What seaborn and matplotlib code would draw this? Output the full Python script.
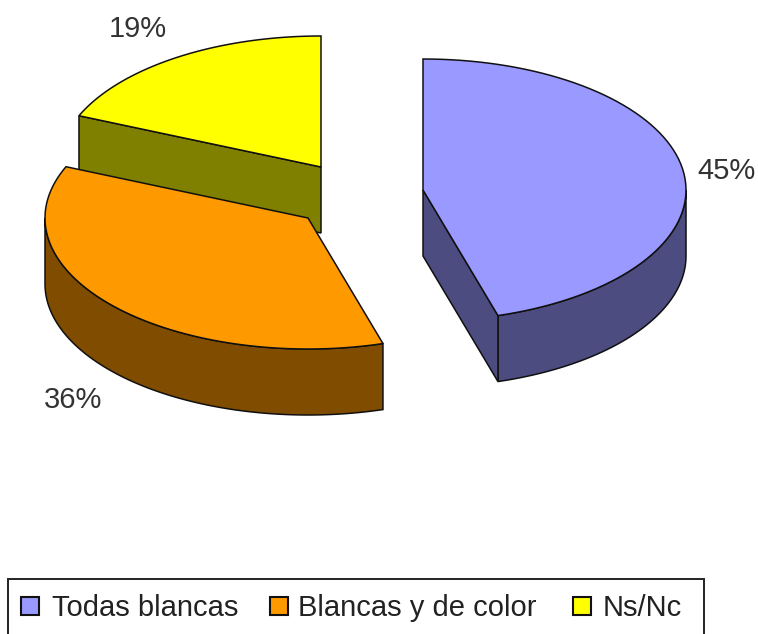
import numpy as np
import matplotlib
matplotlib.use("Agg")
import matplotlib.pyplot as plt
from matplotlib.patches import Polygon, Rectangle
import seaborn as sns

# -------------------------------
# Data
# -------------------------------
categories = ["Todas blancas", "Blancas y de color", "Ns/Nc"]
shares = [45.4, 36.0, 18.6]
top_colors = ["#9999FF", "#FF9900", "#FFFF00"]
side_colors = ["#4C4C80", "#804C00", "#808000"]

# -------------------------------
# Config (layout in pixels)
# -------------------------------
sns.set_theme(style="white")
plt.rcParams["font.family"] = ["Liberation Sans", "DejaVu Sans"]

W, H = 758, 634
RX, RY, DEPTH = 263, 131, 66
CENTERS = [(423, 190), (308, 218), (321, 167)]
LABEL_POS = [(726, 179), (73, 408), (138, 37)]
LEGEND_SWATCH_X = [21, 270, 573]
LEGEND_TEXT_X = [52, 298, 603]
EDGE = "#101010"


def arc(center, a0, a1, drop=0):
    """Points of the rim between two angles in degrees."""
    t = np.radians(np.linspace(a0, a1, 80))
    x = center[0] + RX * np.cos(t)
    y = center[1] - RY * np.sin(t) + drop
    return np.column_stack([x, y])


def draw_slice(ax, center, a0, a1, top, side):
    """Draw one exploded slice, walls first and the top face last."""
    apex = np.array(center, dtype=float)
    lower = apex + [0, DEPTH]

    # outer wall, only the part of the rim that faces the viewer
    w0, w1 = max(a0, -180), min(a1, 0)
    if w1 > w0:
        wall = np.vstack([arc(center, w0, w1), arc(center, w1, w0, DEPTH)])
        ax.add_patch(Polygon(wall, fc=side, ec=EDGE, lw=1.1, zorder=2))

    # flat cut walls seen from the front
    for ang, sign in ((a0, 1), (a1, -1)):
        if np.cos(np.radians(ang)) * sign > 0:
            rim = arc(center, ang, ang)[0]
            cut = np.vstack([apex, rim, rim + [0, DEPTH], lower])
            ax.add_patch(Polygon(cut, fc=side, ec=EDGE, lw=1.1, zorder=2))

    face = np.vstack([apex, arc(center, a0, a1)])
    ax.add_patch(Polygon(face, fc=top, ec=EDGE, lw=1.1, zorder=3))


def main():
    fig = plt.figure(figsize=(W / 100, H / 100), dpi=100, facecolor="white")
    ax = fig.add_axes([0, 0, 1, 1])
    ax.set_xlim(0, W)
    ax.set_ylim(H, 0)
    ax.axis("off")

    # slices run clockwise from twelve o'clock, the last one is drawn first
    ends = 90 - np.cumsum([0] + shares) * 3.6
    for i in [2, 1, 0]:
        draw_slice(ax, CENTERS[i], ends[i + 1], ends[i], top_colors[i], side_colors[i])
        ax.text(*LABEL_POS[i], f"{shares[i]:.0f}%", ha="center", va="baseline",
                fontsize=21, color="#333333", zorder=6)

    # legend box, the picture cuts off its lower edge
    ax.add_patch(Rectangle((8, 579), 696, 70, fc="white", ec="#222222", lw=1.4, zorder=4))
    for i, name in enumerate(categories):
        ax.add_patch(Rectangle((LEGEND_SWATCH_X[i], 597), 18, 18, fc=top_colors[i],
                               ec="#111111", lw=1.5, zorder=5))
        ax.text(LEGEND_TEXT_X[i], 616, name, ha="left", va="baseline",
                fontsize=21, color="#222222", zorder=5)

    fig.savefig("out.png", dpi=100)


if __name__ == "__main__":
    main()
